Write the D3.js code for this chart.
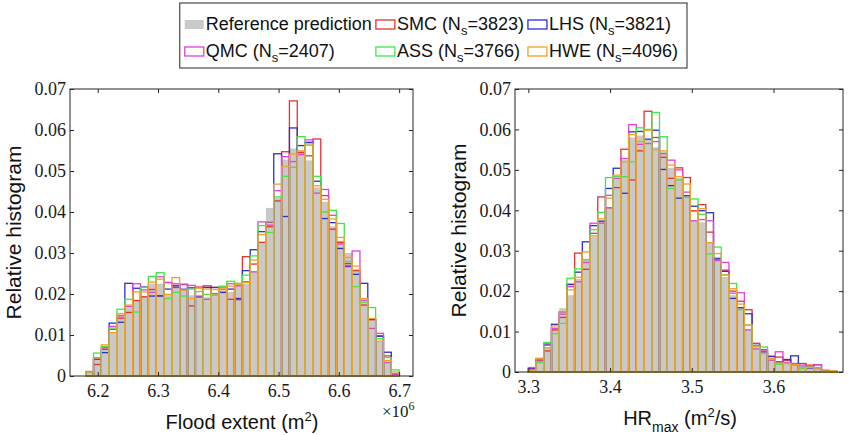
<!DOCTYPE html>
<html><head><meta charset="utf-8">
<script src="https://cdn.jsdelivr.net/npm/d3@7"></script>
<style>body{margin:0;background:#fff}svg{display:block}</style>
</head><body><svg id="chart" width="852" height="435"></svg>
<script>
// ---------- data ----------
const seriesNames = ["Reference prediction", "SMC", "LHS", "QMC", "ASS", "HWE"];
const sampleSizes = [null, 3823, 3821, 2407, 3766, 4096];
const seriesColors = ["#c9c9c9", "#e6322f", "#2a30d2", "#e040e4", "#3fe845", "#f2a02c"];

// Flood extent histogram (x in units of 1e6 m^2), 40 bins
const floodBinStart = 6.18, floodBinWidth = 0.013;
const floodRef = [0.0008,0.0046,0.0073,0.0106,0.0150,0.0168,0.0185,0.0195,0.0225,0.0225,0.0200,0.0223,0.0215,0.0197,0.0195,0.0192,0.0200,0.0210,0.0205,0.0225,0.0225,0.0255,0.0325,0.0410,0.0435,0.0528,0.0555,0.0550,0.0526,0.0460,0.0425,0.0365,0.0330,0.0300,0.0260,0.0185,0.0135,0.0085,0.0035,0.0006];
const floodSMC = [0.0011,0.0028,0.0065,0.0114,0.0141,0.0155,0.0184,0.0193,0.0211,0.0196,0.0228,0.0216,0.0223,0.0171,0.0217,0.0220,0.0216,0.0217,0.0187,0.0186,0.0291,0.0273,0.0326,0.0364,0.0427,0.0547,0.0671,0.0545,0.0537,0.0578,0.0440,0.0358,0.0326,0.0274,0.0257,0.0173,0.0137,0.0098,0.0049,0.0005];
const floodLHS = [0.0010,0.0041,0.0057,0.0129,0.0131,0.0226,0.0214,0.0217,0.0195,0.0195,0.0212,0.0220,0.0211,0.0215,0.0193,0.0216,0.0216,0.0204,0.0212,0.0189,0.0257,0.0308,0.0352,0.0375,0.0542,0.0389,0.0605,0.0562,0.0570,0.0475,0.0384,0.0374,0.0311,0.0267,0.0248,0.0226,0.0138,0.0097,0.0058,0.0003];
const floodQMC = [0.0010,0.0045,0.0069,0.0121,0.0147,0.0170,0.0225,0.0210,0.0204,0.0242,0.0228,0.0225,0.0224,0.0221,0.0195,0.0187,0.0201,0.0212,0.0225,0.0220,0.0230,0.0254,0.0376,0.0368,0.0452,0.0535,0.0523,0.0540,0.0576,0.0446,0.0455,0.0392,0.0322,0.0269,0.0305,0.0185,0.0116,0.0104,0.0033,0.0003];
const floodASS = [0.0009,0.0056,0.0072,0.0117,0.0163,0.0187,0.0156,0.0216,0.0243,0.0252,0.0189,0.0204,0.0195,0.0212,0.0206,0.0199,0.0197,0.0219,0.0231,0.0226,0.0246,0.0293,0.0367,0.0350,0.0437,0.0487,0.0509,0.0584,0.0563,0.0487,0.0400,0.0404,0.0372,0.0279,0.0218,0.0180,0.0167,0.0091,0.0045,0.0015];
const floodHWE = [0.0010,0.0044,0.0076,0.0106,0.0152,0.0173,0.0205,0.0205,0.0229,0.0236,0.0199,0.0240,0.0210,0.0189,0.0214,0.0212,0.0211,0.0214,0.0219,0.0224,0.0228,0.0283,0.0345,0.0376,0.0468,0.0511,0.0541,0.0549,0.0566,0.0464,0.0431,0.0383,0.0338,0.0289,0.0268,0.0189,0.0140,0.0085,0.0038,0.0010];

// HR_max histogram (m^2/s), 40 bins
const hrBinStart = 3.30, hrBinWidth = 0.00944;
const hrRef = [0.0005,0.0030,0.0060,0.0110,0.0158,0.0190,0.0230,0.0278,0.0335,0.0375,0.0405,0.0480,0.0525,0.0580,0.0585,0.0575,0.0556,0.0545,0.0505,0.0480,0.0435,0.0375,0.0370,0.0320,0.0285,0.0235,0.0190,0.0160,0.0105,0.0065,0.0050,0.0035,0.0025,0.0020,0.0020,0.0012,0.0010,0.0008,0.0003,0.0002];
const hrSMC = [0.0007,0.0028,0.0052,0.0104,0.0135,0.0216,0.0294,0.0254,0.0343,0.0433,0.0406,0.0456,0.0551,0.0475,0.0547,0.0645,0.0580,0.0531,0.0479,0.0505,0.0481,0.0399,0.0414,0.0346,0.0276,0.0252,0.0200,0.0175,0.0154,0.0071,0.0055,0.0038,0.0037,0.0029,0.0021,0.0021,0.0017,0.0010,0.0004,0.0001];
const hrLHS = [0.0008,0.0033,0.0069,0.0118,0.0149,0.0217,0.0247,0.0322,0.0362,0.0373,0.0454,0.0504,0.0442,0.0594,0.0595,0.0576,0.0598,0.0501,0.0461,0.0430,0.0436,0.0410,0.0399,0.0394,0.0280,0.0249,0.0182,0.0159,0.0144,0.0066,0.0050,0.0039,0.0025,0.0031,0.0040,0.0012,0.0010,0.0018,0.0003,0.0001];
const hrQMC = [0.0011,0.0030,0.0066,0.0108,0.0143,0.0211,0.0223,0.0271,0.0368,0.0368,0.0437,0.0479,0.0528,0.0612,0.0563,0.0565,0.0570,0.0540,0.0524,0.0500,0.0445,0.0374,0.0377,0.0374,0.0276,0.0271,0.0195,0.0196,0.0104,0.0057,0.0052,0.0029,0.0050,0.0024,0.0018,0.0017,0.0014,0.0018,0.0004,0.0001];
const hrASS = [0.0005,0.0023,0.0073,0.0095,0.0120,0.0232,0.0255,0.0278,0.0352,0.0395,0.0481,0.0483,0.0483,0.0520,0.0604,0.0600,0.0642,0.0582,0.0454,0.0475,0.0432,0.0428,0.0390,0.0292,0.0309,0.0240,0.0219,0.0154,0.0116,0.0064,0.0062,0.0032,0.0019,0.0021,0.0017,0.0008,0.0012,0.0011,0.0002,0.0001];
const hrHWE = [0.0004,0.0034,0.0060,0.0114,0.0149,0.0203,0.0234,0.0297,0.0337,0.0379,0.0430,0.0487,0.0520,0.0587,0.0570,0.0598,0.0550,0.0547,0.0512,0.0483,0.0465,0.0397,0.0404,0.0320,0.0293,0.0240,0.0206,0.0168,0.0116,0.0064,0.0045,0.0033,0.0022,0.0021,0.0019,0.0011,0.0012,0.0007,0.0002,0.0003];

const yTicks = [0, 0.01, 0.02, 0.03, 0.04, 0.05, 0.06, 0.07];
const floodTicks = [6.2, 6.3, 6.4, 6.5, 6.6, 6.7];
const hrTicks = [3.3, 3.4, 3.5, 3.6];

// ---------- drawing ----------
const svg = d3.select("#chart");
const axisColor = "#262626";
const serif = "'Liberation Serif','DejaVu Serif',serif";
const sans = "'Liberation Sans',Arial,sans-serif";

function panel(cfg) {
  const x = d3.scaleLinear().domain(cfg.xDomain).range([cfg.left, cfg.right]);
  const y = d3.scaleLinear().domain([0, 0.07]).range([cfg.bottom, cfg.top]);
  const g = svg.append("g");
  const series = cfg.series;
  const bins = series[0].map((_, i) => [cfg.binStart + i * cfg.binWidth, cfg.binStart + (i + 1) * cfg.binWidth]);

  g.append("g").selectAll("rect").data(series[0]).join("rect")
    .attr("x", (d, i) => x(bins[i][0]))
    .attr("width", (d, i) => x(bins[i][1]) - x(bins[i][0]))
    .attr("y", d => y(d))
    .attr("height", d => y(0) - y(d))
    .attr("fill", seriesColors[0]);

  for (let s = 1; s < series.length; s++) {
    g.append("g").selectAll("rect").data(series[s]).join("rect")
      .attr("x", (d, i) => x(bins[i][0]))
      .attr("width", (d, i) => x(bins[i][1]) - x(bins[i][0]))
      .attr("y", d => y(d))
      .attr("height", d => y(0) - y(d))
      .attr("fill", "none")
      .attr("stroke", seriesColors[s])
      .attr("stroke-width", 1.3);
  }

  const fmtY = d => d === 0 ? "0" : d3.format(".2f")(d);
  const ax = [
    g.append("g").attr("transform", `translate(0,${cfg.bottom})`)
      .call(d3.axisBottom(x).tickValues(cfg.xTicks).tickSizeInner(-4).tickSizeOuter(0).tickPadding(8).tickFormat(d3.format(".1f"))),
    g.append("g").attr("transform", `translate(0,${cfg.top})`)
      .call(d3.axisTop(x).tickValues(cfg.xTicks).tickSizeInner(-4).tickSizeOuter(0).tickFormat("")),
    g.append("g").attr("transform", `translate(${cfg.left},0)`)
      .call(d3.axisLeft(y).tickValues(yTicks).tickSizeInner(-4).tickSizeOuter(0).tickPadding(4).tickFormat(fmtY)),
    g.append("g").attr("transform", `translate(${cfg.right},0)`)
      .call(d3.axisRight(y).tickValues(yTicks).tickSizeInner(-4).tickSizeOuter(0).tickFormat(""))
  ];
  ax.forEach(a => {
    a.select(".domain").remove();
    a.selectAll("line").attr("stroke", axisColor);
    a.selectAll("text").attr("font-family", serif).attr("font-size", 18).attr("fill", "#1a1a1a");
  });
  g.append("rect").attr("x", cfg.left).attr("y", cfg.top)
    .attr("width", cfg.right - cfg.left).attr("height", cfg.bottom - cfg.top)
    .attr("fill", "none").attr("stroke", axisColor).attr("stroke-width", 1);

  g.append("text")
    .attr("transform", `translate(${cfg.left - 49},${(cfg.top + cfg.bottom) / 2}) rotate(-90)`)
    .attr("text-anchor", "middle").attr("font-family", sans).attr("font-size", 21).attr("fill", "#111")
    .text("Relative histogram");
  return { g, x, y };
}

panel({
  left: 70, right: 413, top: 89, bottom: 376,
  xDomain: [6.154, 6.723], xTicks: floodTicks,
  binStart: floodBinStart, binWidth: floodBinWidth,
  series: [floodRef, floodSMC, floodLHS, floodQMC, floodASS, floodHWE]
});
panel({
  left: 515, right: 843, top: 89, bottom: 372,
  xDomain: [3.2837, 3.685], xTicks: hrTicks,
  binStart: hrBinStart, binWidth: hrBinWidth,
  series: [hrRef, hrSMC, hrLHS, hrQMC, hrASS, hrHWE]
});

// x labels
const xl1 = svg.append("text").attr("x", 242).attr("y", 429).attr("text-anchor", "middle")
  .attr("font-family", sans).attr("font-size", 20).attr("fill", "#111");
xl1.append("tspan").text("Flood extent (m");
xl1.append("tspan").attr("font-size", 13).attr("dy", -8).text("2");
xl1.append("tspan").attr("dy", 8).text(")");

const xl2 = svg.append("text").attr("x", 680).attr("y", 425).attr("text-anchor", "middle")
  .attr("font-family", sans).attr("font-size", 20).attr("fill", "#111");
xl2.append("tspan").text("HR");
xl2.append("tspan").attr("font-size", 14).attr("dy", 7).text("max");
xl2.append("tspan").attr("dy", -7).text(" (m");
xl2.append("tspan").attr("font-size", 13).attr("dy", -8).text("2");
xl2.append("tspan").attr("dy", 8).text("/s)");

// x10^6 multiplier
const mult = svg.append("text").attr("x", 382).attr("y", 417)
  .attr("font-family", serif).attr("font-size", 17).attr("fill", "#1a1a1a");
mult.append("tspan").text("×10");
mult.append("tspan").attr("font-size", 12).attr("dy", -7).text("6");

// ---------- legend ----------
const legRows = [[0, 1, 2], [3, 4, 5]];
const leg = svg.append("g");
const legBox = leg.append("rect");
const legFont = 18, patchW = 19, patchH = 9, rowBase = [30, 57];
const items = [];
legRows.forEach((row, r) => row.forEach((s, c) => {
  const t = leg.append("text").attr("font-family", sans).attr("font-size", legFont).attr("fill", "#111").attr("y", rowBase[r]);
  if (sampleSizes[s] === null) {
    t.append("tspan").text(seriesNames[s]);
  } else {
    t.append("tspan").text(seriesNames[s] + " (N");
    t.append("tspan").attr("font-size", 13).attr("dy", 5).text("s");
    t.append("tspan").attr("dy", -5).text("=" + sampleSizes[s] + ")");
  }
  items.push({ s, r, c, t, w: t.node().getComputedTextLength() });
}));
const colW = [0, 1, 2].map(c => d3.max(items.filter(d => d.c === c), d => d.w) + patchW + 2 + 4);
const legRight = 687, legTop = 3, legBottom = 68, pad = 5;
const legLeft = legRight - pad * 2 - d3.sum(colW);
let cx = legLeft + pad;
const colX = colW.map(w => { const v = cx; cx += w; return v; });
items.forEach(d => {
  const px = colX[d.c];
  const py = rowBase[d.r] - patchH - 1;
  const patch = leg.append("rect").attr("x", px).attr("y", py).attr("width", patchW).attr("height", patchH);
  if (d.s === 0) patch.attr("fill", seriesColors[0]);
  else patch.attr("fill", "none").attr("stroke", seriesColors[d.s]).attr("stroke-width", 1.3);
  d.t.attr("x", px + patchW + 2);
});
legBox.attr("x", legLeft).attr("y", legTop).attr("width", legRight - legLeft).attr("height", legBottom - legTop)
  .attr("fill", "#fff").attr("stroke", axisColor).attr("stroke-width", 1);
</script>
</body></html>
